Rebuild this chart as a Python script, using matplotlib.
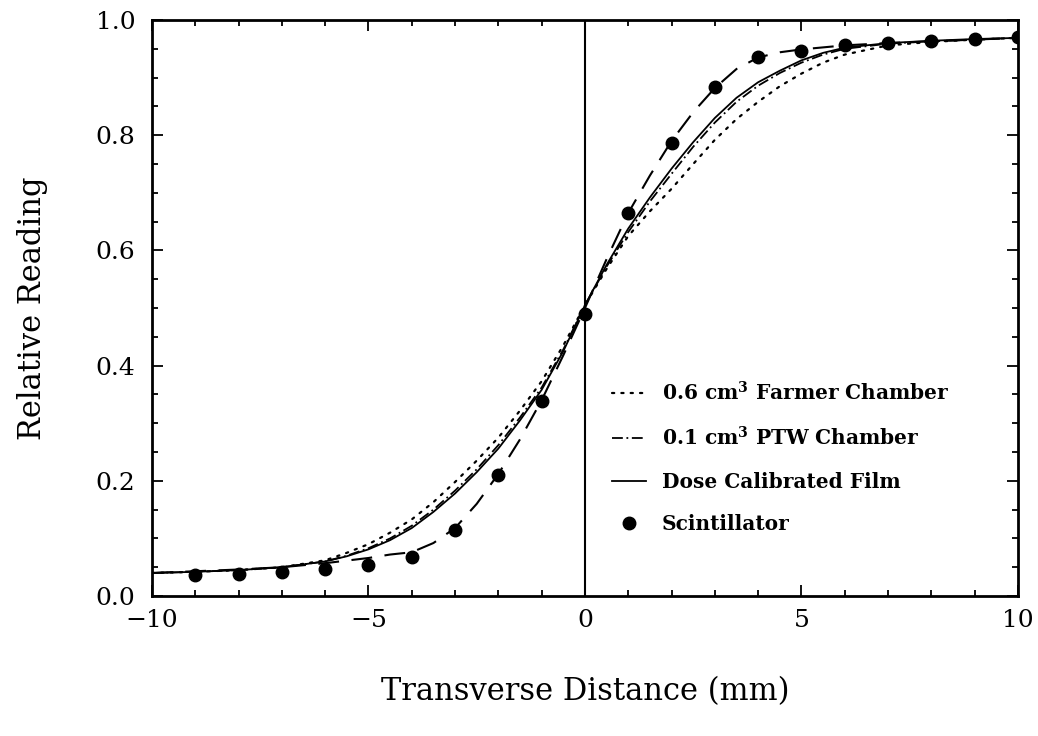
import matplotlib
matplotlib.use("Agg")
import matplotlib.pyplot as plt
from matplotlib.ticker import MultipleLocator, FormatStrFormatter

# ---- data ----
curve_x = [-10, -9, -8, -7, -6, -5.5, -5, -4.5, -4, -3.5, -3, -2.5, -2, -1.5, -1, -0.5,
           0, 0.5, 1, 1.5, 2, 2.5, 3, 3.5, 4, 4.5, 5, 5.5, 6, 7, 8, 9, 10]
farmer_y = [.040, .042, .045, .050, .062, .075, .090, .110, .133, .163, .198, .235, .275, .322, .373, .435,
            .505, .568, .625, .668, .707, .750, .792, .828, .858, .885, .907, .926, .940, .956, .962, .966, .969]
ptw_y = [.040, .042, .045, .050, .060, .070, .083, .100, .122, .150, .183, .220, .262, .310, .362, .428,
         .505, .572, .632, .685, .733, .780, .822, .858, .886, .908, .926, .940, .950, .959, .963, .966, .969]
film_y = [.040, .042, .045, .050, .060, .069, .081, .097, .118, .146, .178, .215, .256, .305, .358, .425,
          .505, .575, .638, .692, .742, .788, .830, .865, .892, .912, .930, .943, .952, .960, .964, .967, .969]

scint_fit_x = [-10, -9, -8, -7, -6, -5, -4.5, -4, -3.5, -3, -2.5, -2, -1.5, -1, -0.5, 0,
               0.5, 1, 1.5, 2, 2.5, 3, 3.5, 4, 4.5, 5, 6, 7, 8, 9, 10]
scint_fit_y = [.040, .043, .046, .050, .057, .066, .072, .076, .092, .118, .160, .212, .272, .340, .418, .500,
               .585, .665, .730, .790, .840, .882, .915, .935, .944, .949, .956, .960, .963, .966, .969]

scint_x = [-9, -8, -7, -6, -5, -4, -3, -2, -1, 0, 1, 2, 3, 4, 5, 6, 7, 8, 9, 10]
scint_y = [.036, .038, .042, .047, .054, .068, .115, .210, .339, .490, .665, .786, .884, .936,
           .946, .957, .960, .963, .967, .970]

labels = ["0.6 cm$^{\\mathbf{3}}$ Farmer Chamber", "0.1 cm$^{\\mathbf{3}}$ PTW Chamber",
          "Dose Calibrated Film", "Scintillator"]
x_label = "Transverse Distance (mm)"
y_label = "Relative Reading"

plt.rcParams['font.family'] = ['DejaVu Serif']
plt.rcParams['mathtext.fontset'] = 'dejavuserif'

fig = plt.figure(figsize=(10.38, 7.36), dpi=100)
ax = fig.add_axes([0.1464, 0.1902, 0.8343, 0.7826])

lw = 1.3
h1, = ax.plot(curve_x, farmer_y, color='black', lw=1.6, linestyle=(0, (1, 3.2)), dash_capstyle='round')
h2, = ax.plot(curve_x, ptw_y, color='black', lw=lw, linestyle=(0, (6, 2, 1, 2)))
h3, = ax.plot(curve_x, film_y, color='black', lw=lw, linestyle='-')
ax.plot(scint_fit_x, scint_fit_y, color='black', lw=1.5, linestyle=(0, (10, 6)))
h4, = ax.plot(scint_x, scint_y, 'o', color='black', markersize=9, linestyle='none')

ax.axvline(0, color='black', lw=1.5)

ax.set_xlim(-10, 10)
ax.set_ylim(0, 1.0)
ax.xaxis.set_major_locator(MultipleLocator(5))
ax.xaxis.set_minor_locator(MultipleLocator(1))
ax.yaxis.set_major_locator(MultipleLocator(0.2))
ax.yaxis.set_minor_locator(MultipleLocator(0.05))
ax.yaxis.set_major_formatter(FormatStrFormatter('%.1f'))
ax.tick_params(which='both', direction='in', top=True, right=True, labelsize=18, width=1.3)
ax.tick_params(which='major', length=8)
ax.tick_params(axis='y', which='major', pad=12)
ax.tick_params(axis='x', which='major', pad=9)
ax.tick_params(which='minor', length=4)
for s in ax.spines.values():
    s.set_linewidth(2)

ax.set_xlabel(x_label, fontsize=22, labelpad=32)
ax.set_ylabel(y_label, fontsize=22, labelpad=34)

leg = ax.legend([h1, h2, h3, h4], labels, loc='upper left', bbox_to_anchor=(0.51, 0.405),
                frameon=False, prop={'weight': 'bold', 'size': 14.5}, handlelength=1.7,
                handletextpad=0.8, labelspacing=1.1)

fig.savefig("out.png", dpi=100)
